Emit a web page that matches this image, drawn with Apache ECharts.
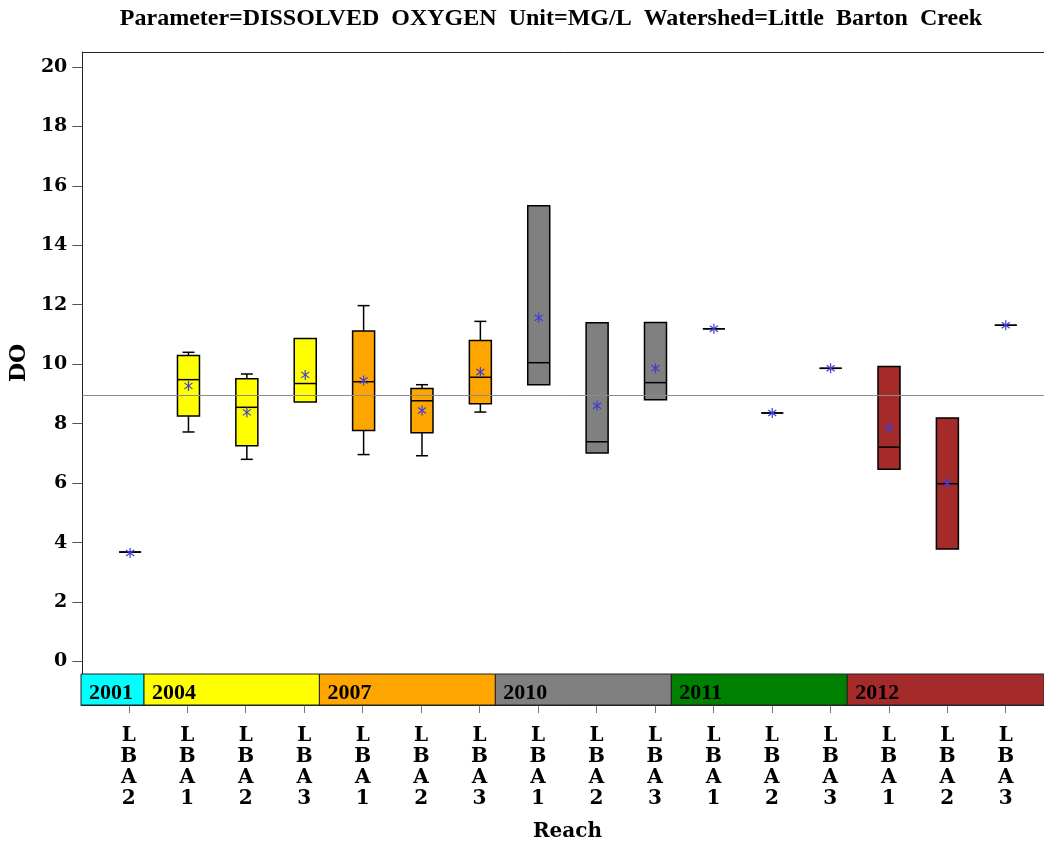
<!DOCTYPE html>
<html>
<head>
<meta charset="utf-8">
<script src="https://cdn.jsdelivr.net/npm/echarts@6/dist/echarts.min.js"></script>
<style>
html, body { margin: 0; padding: 0; background: #fff; }
#chart { width: 1044px; height: 846px; }
</style>
</head>
<body>
<div id="chart"></div>
<script>
// Box order along the reach axis
const reaches = ['LBA2', 'LBA1', 'LBA2', 'LBA3', 'LBA1', 'LBA2', 'LBA3', 'LBA1', 'LBA2', 'LBA3', 'LBA1', 'LBA2', 'LBA3', 'LBA1', 'LBA2', 'LBA3'];
const boxYears = ['2001', '2004', '2004', '2004', '2007', '2007', '2007', '2010', '2010', '2010', '2011', '2011', '2011', '2012', '2012', '2012'];

// DO statistics (mg/L)
const doMin    = [3.68, 7.72, 6.80, 8.73, 6.96, 6.92, 8.39, 9.31, 7.01, 8.80, 11.19, 8.36, 9.86, 6.47, 3.78, 11.31];
const doQ1     = [3.68, 8.26, 7.26, 8.73, 7.77, 7.69, 8.67, 9.31, 7.01, 8.80, 11.19, 8.36, 9.86, 6.47, 3.78, 11.31];
const doMedian = [3.68, 9.48, 8.55, 9.35, 9.41, 8.77, 9.56, 10.05, 7.39, 9.38, 11.19, 8.36, 9.86, 7.21, 5.98, 11.31];
const doQ3     = [3.68, 10.29, 9.51, 10.86, 11.12, 9.18, 10.80, 15.33, 11.39, 11.40, 11.19, 8.36, 9.86, 9.92, 8.19, 11.31];
const doMax    = [3.68, 10.40, 9.67, 10.86, 11.97, 9.31, 11.44, 15.33, 11.39, 11.40, 11.19, 8.36, 9.86, 9.92, 8.19, 11.31];
const doMean   = [3.65, 9.27, 8.38, 9.64, 9.45, 8.44, 9.74, 11.56, 8.60, 9.86, 11.19, 8.36, 9.86, 7.86, 6.00, 11.31];

// overall reference level
const refLevel = 8.96;
const yTicks = [0, 2, 4, 6, 8, 10, 12, 14, 16, 18, 20];

// year bands under the plot (in box-position units)
const bandYears = ['2001', '2004', '2007', '2010', '2011', '2012'];
const bandStart = [-0.818, 0.26, 3.26, 6.27, 9.28, 12.29];
const bandEnd   = [0.26, 3.26, 6.27, 9.28, 12.29, 15.655];

const yearColors = {
    '2001': '#00ffff',
    '2004': '#ffff00',
    '2007': '#ffa500',
    '2010': '#808080',
    '2011': '#008000',
    '2012': '#a52a2a'
};

const FONT = '"DejaVu Serif", serif';
const FONT_NARROW = '"Liberation Serif", serif';
const X_MIN = -0.818, X_MAX = 15.655;
const positions = reaches.map((r, i) => i);

const boxData = positions.map((x, i) => [x, doMin[i], doQ1[i], doMedian[i], doQ3[i], doMax[i], doMean[i]]);
const bandData = bandYears.map((y, k) => [bandStart[k], bandEnd[k], k]);

function seg(x1, y1, x2, y2, color, w) {
    return { type: 'line', shape: { x1: x1, y1: y1, x2: x2, y2: y2 }, style: { stroke: color, lineWidth: w } };
}

// 画箱线图 | draw one box
function renderBox(params, api) {
    const x = api.value(0);
    const lo = api.coord([x, api.value(1)]);
    const q1 = api.coord([x, api.value(2)]);
    const med = api.coord([x, api.value(3)]);
    const q3 = api.coord([x, api.value(4)]);
    const hi = api.coord([x, api.value(5)]);
    const mean = api.coord([x, api.value(6)]);
    const cx = lo[0];
    const half = 11, cap = 6, s = 5;
    const fill = yearColors[boxYears[params.dataIndex]];
    const kids = [];
    if (hi[1] < q3[1] - 0.5) {
        kids.push(seg(cx, hi[1], cx, q3[1], '#000', 1.5));
        kids.push(seg(cx - cap, hi[1], cx + cap, hi[1], '#000', 1.5));
    }
    if (lo[1] > q1[1] + 0.5) {
        kids.push(seg(cx, q1[1], cx, lo[1], '#000', 1.5));
        kids.push(seg(cx - cap, lo[1], cx + cap, lo[1], '#000', 1.5));
    }
    kids.push({
        type: 'rect',
        shape: { x: cx - half, y: q3[1], width: half * 2, height: Math.max(q1[1] - q3[1], 0) },
        style: { fill: fill, stroke: '#000', lineWidth: 1.5 }
    });
    kids.push(seg(cx - half, med[1], cx + half, med[1], '#000', 1.5));
    // 均值星号 | mean asterisk
    const mc = '#3d3ddb';
    kids.push(seg(mean[0], mean[1] - s, mean[0], mean[1] + s, mc, 1.2));
    kids.push(seg(mean[0] - 4, mean[1] - 3, mean[0] + 4, mean[1] + 3, mc, 1.2));
    kids.push(seg(mean[0] - 4, mean[1] + 3, mean[0] + 4, mean[1] - 3, mc, 1.2));
    return { type: 'group', children: kids };
}

// 年份色带 | year band
function renderBand(params, api) {
    const a = api.coord([api.value(0), 1]);
    const b = api.coord([api.value(1), 0]);
    const year = bandYears[api.value(2)];
    return {
        type: 'group',
        children: [
            {
                type: 'rect',
                shape: { x: a[0], y: a[1], width: b[0] - a[0], height: b[1] - a[1] },
                style: { fill: yearColors[year], stroke: '#222', lineWidth: 1 }
            },
            {
                type: 'text',
                x: a[0] + 8,
                y: b[1] - 1,
                style: {
                    text: year,
                    font: 'bold 22px ' + FONT_NARROW,
                    fill: '#000',
                    align: 'left',
                    verticalAlign: 'bottom'
                }
            }
        ]
    };
}

const chart = echarts.init(document.getElementById('chart'));

chart.setOption({
    animation: false,
    backgroundColor: '#fff',
    title: {
        text: 'Parameter=DISSOLVED  OXYGEN  Unit=MG/L  Watershed=Little  Barton  Creek',
        left: 546,
        top: 2,
        textAlign: 'center',
        textStyle: { fontFamily: FONT_NARROW, fontWeight: 'bold', fontSize: 24, color: '#000' }
    },
    grid: [
        { left: 81, right: 0, top: 52, height: 622 },
        { left: 81, right: 0, top: 674, height: 31 }
    ],
    xAxis: [
        {
            type: 'value', gridIndex: 0, min: X_MIN, max: X_MAX, position: 'top',
            axisLine: { show: true, onZero: false, lineStyle: { color: '#222', width: 1 } },
            axisTick: { show: false }, axisLabel: { show: false }, splitLine: { show: false }
        },
        {
            type: 'value', gridIndex: 1, min: X_MIN, max: X_MAX, position: 'bottom',
            name: 'Reach', nameLocation: 'middle', nameGap: 117,
            nameTextStyle: { fontFamily: FONT, fontWeight: 'bold', fontSize: 20, color: '#000', padding: [0, 0, 0, 10] },
            axisLine: { show: true, onZero: false, lineStyle: { color: '#222' } },
            axisTick: { show: true, customValues: positions, length: 8, lineStyle: { color: '#777' } },
            axisLabel: {
                customValues: positions,
                margin: 20,
                formatter: v => reaches[Math.round(v)].split('').join('\n'),
                fontFamily: FONT, fontWeight: 'bold', fontSize: 20, lineHeight: 21, color: '#000'
            },
            splitLine: { show: false }
        }
    ],
    yAxis: [
        {
            type: 'value', gridIndex: 0, min: -0.42, max: 20.5,
            name: 'DO', nameLocation: 'middle', nameGap: 47,
            nameTextStyle: { fontFamily: FONT, fontWeight: 'bold', fontSize: 22, color: '#000' },
            axisLine: { show: true, onZero: false, lineStyle: { color: '#222' } },
            axisTick: { show: true, customValues: yTicks, length: 10, lineStyle: { color: '#555' } },
            axisLabel: {
                customValues: yTicks, margin: 15,
                fontFamily: FONT, fontWeight: 'bold', fontSize: 19, color: '#000'
            },
            splitLine: { show: false }
        },
        { type: 'value', gridIndex: 1, min: 0, max: 1, show: false }
    ],
    series: [
        {
            type: 'line', xAxisIndex: 0, yAxisIndex: 0, data: [], z: 1,
            markLine: {
                silent: true, symbol: 'none', label: { show: false },
                lineStyle: { color: '#8c8c8c', type: 'solid', width: 1 },
                data: [{ yAxis: refLevel }]
            }
        },
        {
            type: 'custom', xAxisIndex: 0, yAxisIndex: 0, z: 3,
            renderItem: renderBox, data: boxData, clip: false
        },
        {
            type: 'custom', xAxisIndex: 1, yAxisIndex: 1, z: 3,
            renderItem: renderBand, data: bandData
        }
    ]
});
</script>
</body>
</html>
